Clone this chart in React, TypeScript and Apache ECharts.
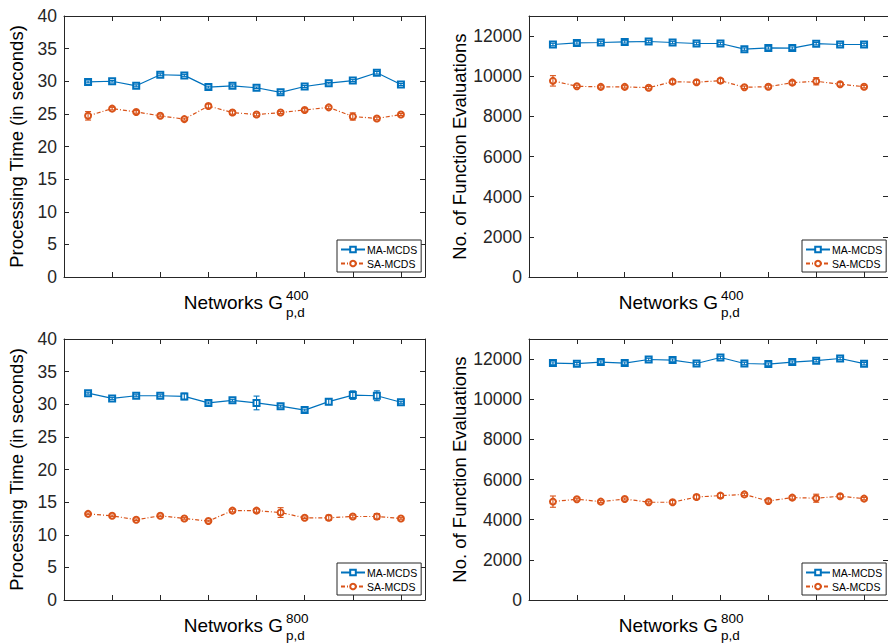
import React, { useEffect, useRef } from "react";
import * as echarts from "echarts";

// Network instances (1..14) on the horizontal axis
const networks = [1, 2, 3, 4, 5, 6, 7, 8, 9, 10, 11, 12, 13, 14];

// Processing time, G(400)
const maTime400 = [29.9, 30.0, 29.3, 31.0, 30.9, 29.1, 29.3, 29.0, 28.3, 29.2, 29.7, 30.1, 31.3, 29.5];
const maTime400Err = [0.15, 0.12, 0.15, 0.15, 0.15, 0.15, 0.15, 0.12, 0.15, 0.15, 0.12, 0.15, 0.2, 0.15];
const saTime400 = [24.7, 25.8, 25.3, 24.7, 24.2, 26.2, 25.2, 24.9, 25.2, 25.6, 26.0, 24.6, 24.3, 24.9];
const saTime400Err = [0.65, 0.2, 0.2, 0.15, 0.15, 0.3, 0.25, 0.2, 0.15, 0.2, 0.2, 0.55, 0.2, 0.15];

// Function evaluations, G(400)
const maEval400 = [11580, 11660, 11680, 11710, 11730, 11680, 11630, 11630, 11350, 11410, 11400, 11620, 11580, 11580];
const maEval400Err = [60, 60, 60, 60, 60, 60, 60, 60, 60, 60, 60, 60, 60, 60];
const saEval400 = [9770, 9500, 9470, 9470, 9430, 9730, 9700, 9780, 9450, 9480, 9680, 9750, 9600, 9480];
const saEval400Err = [260, 60, 60, 60, 60, 90, 90, 110, 60, 70, 80, 180, 90, 60];

// Processing time, G(800)
const maTime800 = [31.7, 30.9, 31.3, 31.3, 31.2, 30.2, 30.6, 30.2, 29.7, 29.1, 30.4, 31.4, 31.3, 30.3];
const maTime800Err = [0.15, 0.15, 0.15, 0.15, 0.5, 0.15, 0.15, 1.05, 0.15, 0.15, 0.45, 0.65, 0.75, 0.15];
const saTime800 = [13.2, 12.9, 12.3, 12.9, 12.5, 12.1, 13.7, 13.7, 13.4, 12.6, 12.6, 12.8, 12.8, 12.5];
const saTime800Err = [0.12, 0.12, 0.12, 0.12, 0.12, 0.12, 0.2, 0.25, 0.75, 0.12, 0.4, 0.2, 0.45, 0.12];

// Function evaluations, G(800)
const maEval800 = [11800, 11770, 11850, 11800, 11980, 11950, 11780, 12080, 11780, 11750, 11850, 11920, 12030, 11770];
const maEval800Err = [60, 60, 60, 60, 60, 60, 60, 60, 60, 60, 60, 60, 60, 60];
const saEval800 = [4900, 5020, 4900, 5030, 4870, 4870, 5130, 5200, 5260, 4930, 5100, 5070, 5170, 5050];
const saEval800Err = [280, 50, 50, 50, 50, 90, 110, 110, 60, 60, 80, 200, 90, 60];

const timeTicks = { min: 0, max: 40, interval: 5 };
const evalTicks = { min: 0, max: 13000, interval: 2000, lastLabel: 12000 };

const BLUE = "#0072BD";
const ORANGE = "#D95319";
const AXIS = "#262626";
const FONT = "'Liberation Sans', Arial, Helvetica, sans-serif";

type Panel = {
  left: number;
  top: number;
  width: number;
  height: number;
  yName: string;
  nameGap: number;
  y: { min: number; max: number; interval: number; lastLabel?: number };
  ma: number[];
  maErr: number[];
  sa: number[];
  saErr: number[];
  sup: string;
  titleRight: number;
  legendLeft: number;
  legendTop: number;
};

const panels: Panel[] = [
  {
    left: 64, top: 16, width: 361, height: 261,
    yName: "Processing Time (in seconds)", nameGap: 38, y: timeTicks,
    ma: maTime400, maErr: maTime400Err, sa: saTime400, saErr: saTime400Err,
    sup: "400", titleRight: 283, legendLeft: 337, legendTop: 240,
  },
  {
    left: 529, top: 16, width: 362, height: 261,
    yName: "No. of Function Evaluations", nameGap: 60, y: evalTicks,
    ma: maEval400, maErr: maEval400Err, sa: saEval400, saErr: saEval400Err,
    sup: "400", titleRight: 718, legendLeft: 802, legendTop: 240,
  },
  {
    left: 64, top: 339, width: 361, height: 261,
    yName: "Processing Time (in seconds)", nameGap: 38, y: timeTicks,
    ma: maTime800, maErr: maTime800Err, sa: saTime800, saErr: saTime800Err,
    sup: "800", titleRight: 283, legendLeft: 337, legendTop: 563,
  },
  {
    left: 529, top: 339, width: 362, height: 261,
    yName: "No. of Function Evaluations", nameGap: 60, y: evalTicks,
    ma: maEval800, maErr: maEval800Err, sa: saEval800, saErr: saEval800Err,
    sup: "800", titleRight: 718, legendLeft: 802, legendTop: 563,
  },
];

const errorBar = (color: string) => (_params: any, api: any) => {
  const x = api.value(0);
  const y = api.value(1);
  const e = api.value(2);
  const hi = api.coord([x, y + e]);
  const lo = api.coord([x, y - e]);
  const cap = 3;
  const style = { stroke: color, lineWidth: 1.1, fill: "none" };
  return {
    type: "group",
    children: [
      { type: "line", shape: { x1: hi[0], y1: hi[1], x2: lo[0], y2: lo[1] }, style },
      { type: "line", shape: { x1: hi[0] - cap, y1: hi[1], x2: hi[0] + cap, y2: hi[1] }, style },
      { type: "line", shape: { x1: lo[0] - cap, y1: lo[1], x2: lo[0] + cap, y2: lo[1] }, style },
    ],
  };
};

function buildOption() {
  const grid: any[] = [];
  const xAxis: any[] = [];
  const yAxis: any[] = [];
  const series: any[] = [];
  const legend: any[] = [];
  const graphic: any[] = [];

  const tick = { show: true, inside: true, length: 5, lineStyle: { color: AXIS, width: 1 } };
  const line = { show: true, onZero: false, lineStyle: { color: AXIS, width: 1 } };

  panels.forEach((p, g) => {
    grid.push({ left: p.left, top: p.top, width: p.width, height: p.height, containLabel: false });

    const xBase = {
      type: "value", gridIndex: g, min: 0, max: 15, interval: 2,
      axisLine: line, axisTick: tick, axisLabel: { show: false }, splitLine: { show: false },
    };
    xAxis.push({ ...xBase, position: "bottom" });
    xAxis.push({ ...xBase, position: "top" });

    const yBase = {
      type: "value", gridIndex: g, min: p.y.min, max: p.y.max, interval: p.y.interval,
      axisLine: line, axisTick: tick, splitLine: { show: false },
    };
    yAxis.push({
      ...yBase,
      position: "left",
      name: p.yName,
      nameLocation: "middle",
      nameGap: p.nameGap,
      nameTextStyle: { fontSize: 18.5, color: "#000", fontFamily: FONT },
      axisLabel: {
        show: true, margin: 7, fontSize: 17.5, color: AXIS, fontFamily: FONT,
        formatter: (v: number) => (p.y.lastLabel !== undefined && v > p.y.lastLabel ? "" : String(v)),
      },
    });
    yAxis.push({ ...yBase, position: "right", axisLabel: { show: false } });

    const xi = g * 2;
    const yi = g * 2;

    series.push({
      name: "MA-MCDS", type: "line", xAxisIndex: xi, yAxisIndex: yi, z: 3,
      data: networks.map((n, i) => [n, p.ma[i]]),
      symbol: "emptyRect", symbolSize: 6, showSymbol: true,
      lineStyle: { color: BLUE, width: 1.2, type: "solid" },
      itemStyle: { color: BLUE, borderColor: BLUE, borderWidth: 1.2 },
      emphasis: { disabled: true },
    });
    series.push({
      name: "SA-MCDS", type: "line", xAxisIndex: xi, yAxisIndex: yi, z: 3,
      data: networks.map((n, i) => [n, p.sa[i]]),
      symbol: "emptyCircle", symbolSize: 6, showSymbol: true,
      lineStyle: { color: ORANGE, width: 1.2, type: [4, 2, 1, 2] },
      itemStyle: { color: ORANGE, borderColor: ORANGE, borderWidth: 1.2 },
      emphasis: { disabled: true },
    });
    series.push({
      name: "MA-MCDS spread", type: "custom", xAxisIndex: xi, yAxisIndex: yi, z: 4,
      renderItem: errorBar(BLUE), encode: { x: 0, y: 1 },
      data: networks.map((n, i) => [n, p.ma[i], p.maErr[i]]),
    });
    series.push({
      name: "SA-MCDS spread", type: "custom", xAxisIndex: xi, yAxisIndex: yi, z: 4,
      renderItem: errorBar(ORANGE), encode: { x: 0, y: 1 },
      data: networks.map((n, i) => [n, p.sa[i], p.saErr[i]]),
    });

    legend.push({
      left: p.legendLeft, top: p.legendTop, orient: "vertical",
      data: ["MA-MCDS", "SA-MCDS"],
      itemWidth: 24, itemHeight: 7, itemGap: 3,
      padding: [4, 4, 3, 3],
      borderColor: AXIS, borderWidth: 1, backgroundColor: "#fff",
      selectedMode: false,
      textStyle: { fontSize: 10.5, color: "#000", fontFamily: FONT, padding: [0, 0, 0, -3] },
    });

    // x-axis title with stacked super/subscript
    const base = p.top + p.height;
    graphic.push({
      type: "group",
      children: [
        {
          type: "text", x: p.titleRight, y: base + 25,
          style: { text: "Networks G", fontSize: 19, fontFamily: FONT, fill: "#000", align: "right", verticalAlign: "middle" },
        },
        {
          type: "text", x: p.titleRight + 3, y: base + 18.5,
          style: { text: p.sup, fontSize: 13.5, fontFamily: FONT, fill: "#000", align: "left", verticalAlign: "middle" },
        },
        {
          type: "text", x: p.titleRight + 3, y: base + 35.5,
          style: { text: "p,d", fontSize: 13.5, fontFamily: FONT, fill: "#000", align: "left", verticalAlign: "middle" },
        },
      ],
    });
  });

  return {
    animation: false,
    backgroundColor: "#fff",
    textStyle: { fontFamily: FONT },
    grid, xAxis, yAxis, series, legend, graphic,
  };
}

export default function App() {
  const ref = useRef<HTMLDivElement>(null);
  useEffect(() => {
    if (!ref.current) return;
    const chart = echarts.init(ref.current, undefined, { renderer: "svg" });
    chart.setOption(buildOption() as any);
    return () => chart.dispose();
  }, []);
  return (
    <div
      ref={ref}
      style={{ position: "absolute", left: 0, top: 0, width: 888, height: 644, background: "#fff" }}
    />
  );
}
